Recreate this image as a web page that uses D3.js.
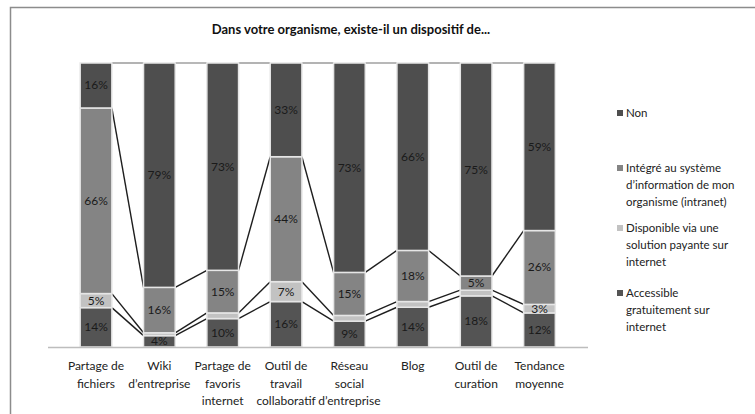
<!DOCTYPE html>
<html>
<head>
<meta charset="utf-8">
<style>
    body { margin: 0; background: #fff; }
    svg { display: block; font-family: Lato, 'Open Sans', sans-serif; }
</style>
</head>
<body>
<svg width="755" height="414"></svg>
<script src="https://d3js.org/d3.v7.min.js"></script>
<script>
    // data, bottom segment first
    let categories = [
        ["Partage de", "fichiers"],
        ["Wiki", "d\u2019entreprise"],
        ["Partage de", "favoris", "internet"],
        ["Outil de", "travail", "collaboratif"],
        ["R\u00e9seau", "social", "d\u2019entreprise"],
        ["Blog"],
        ["Outil de", "curation"],
        ["Tendance", "moyenne"]
    ]
    let accessible = [14, 4, 10, 16, 9, 14, 18, 12]
    let disponible = [5, 1, 2, 7, 2, 2, 2, 3]
    let integre = [66, 16, 15, 44, 15, 18, 5, 26]
    let non = [16, 79, 73, 33, 73, 66, 75, 59]

    let seriesNames = ["Accessible", "Disponible", "Integre", "Non"]
    let legendLabels = [
        ["Non"],
        ["Int\u00e9gr\u00e9 au syst\u00e8me", "d\u2019information de mon", "organisme (intranet)"],
        ["Disponible via une", "solution payante sur", "internet"],
        ["Accessible", "gratuitement sur", "internet"]
    ]
    let colors = {Accessible: "#545454", Disponible: "#c2c2c2", Integre: "#848484", Non: "#4e4e4e"}

    let rows = categories.map((c, i) => ({
        cat: i,
        Accessible: accessible[i],
        Disponible: disponible[i],
        Integre: integre[i],
        Non: non[i]
    }))

    let svg = d3.select("svg")

    // outer frame
    svg.append("rect")
        .attr("x", 10.5).attr("y", 7.5)
        .attr("width", 800).attr("height", 500)
        .attr("fill", "none").attr("stroke", "#8c8c8c").attr("stroke-width", 1.5)

    svg.append("text")
        .attr("x", 351).attr("y", 34)
        .attr("text-anchor", "middle")
        .attr("font-size", 13).attr("font-weight", "bold").attr("fill", "#111")
        .text("Dans votre organisme, existe-il un dispositif de...")

    let x = d3.scaleBand()
        .domain(d3.range(categories.length))
        .range([48.5, 587])
        .padding(0.5)

    let y = d3.scaleLinear().domain([0, 1]).range([347, 63])

    let stacked = d3.stack()
        .keys(seriesNames)
        .offset(d3.stackOffsetExpand)(rows)

    // series lines between bars
    let bw = x.bandwidth()
    stacked.forEach((layer, li) => {
        let segs = d3.range(layer.length - 1).map(i => [
            [x(i) + bw, y(layer[i][1])],
            [x(i + 1), y(layer[i + 1][1])]
        ])
        svg.append("g").selectAll("line")
            .data(segs)
            .join("line")
            .attr("x1", d => d[0][0]).attr("y1", d => d[0][1])
            .attr("x2", d => d[1][0]).attr("y2", d => d[1][1])
            .attr("stroke", li == stacked.length - 1 ? "#9a9a9a" : "#1e1e1e")
            .attr("stroke-width", 1.4)
    })

    // bars
    let layers = svg.append("g").selectAll("g")
        .data(stacked)
        .join("g")
        .attr("fill", d => colors[d.key])

    layers.selectAll("rect")
        .data(d => d)
        .join("rect")
        .attr("x", (d, i) => x(i))
        .attr("y", d => y(d[1]))
        .attr("width", bw)
        .attr("height", d => y(d[0]) - y(d[1]))
        .attr("stroke", "#e6e6e6")
        .attr("stroke-width", 1.5)

    // value labels
    layers.selectAll("text")
        .data(d => d.map(p => ({p: p, v: p.data[d.key]})))
        .join("text")
        .filter(d => d.v >= 3)
        .attr("x", (d, i) => x(d.p.data.cat) + bw / 2)
        .attr("y", d => (y(d.p[0]) + y(d.p[1])) / 2 + 4)
        .attr("text-anchor", "middle")
        .attr("font-size", 12)
        .attr("fill", "#1a1a1a")
        .text(d => d.v + "%")

    // axis baseline
    svg.append("line")
        .attr("x1", 48).attr("x2", 588)
        .attr("y1", 347.5).attr("y2", 347.5)
        .attr("stroke", "#bdbdbd").attr("stroke-width", 1.5)

    // category labels
    svg.append("g").selectAll("text")
        .data(categories)
        .join("text")
        .attr("x", (d, i) => x(i) + bw / 2)
        .attr("y", 370)
        .attr("text-anchor", "middle")
        .attr("font-size", 12)
        .attr("fill", "#222")
        .selectAll("tspan")
        .data(d => d)
        .join("tspan")
        .attr("x", function () { return this.parentNode.getAttribute("x") })
        .attr("dy", (d, i) => i == 0 ? 0 : 17.5)
        .text(d => d)

    // legend
    let legendKeys = ["Non", "Integre", "Disponible", "Accessible"]
    let legendY = [113, 168, 228, 293]
    let legend = svg.append("g").selectAll("g")
        .data(legendKeys)
        .join("g")
        .attr("transform", (d, i) => `translate(617, ${legendY[i]})`)

    legend.append("rect")
        .attr("x", 0).attr("y", -3)
        .attr("width", 6).attr("height", 6)
        .attr("fill", d => colors[d])

    legend.append("text")
        .attr("x", 9).attr("y", 4)
        .attr("font-size", 11.5)
        .attr("fill", "#222")
        .selectAll("tspan")
        .data((d, i) => legendLabels[i])
        .join("tspan")
        .attr("x", 9)
        .attr("dy", (d, i) => i == 0 ? 0 : 17)
        .text(d => d)
</script>
</body>
</html>
